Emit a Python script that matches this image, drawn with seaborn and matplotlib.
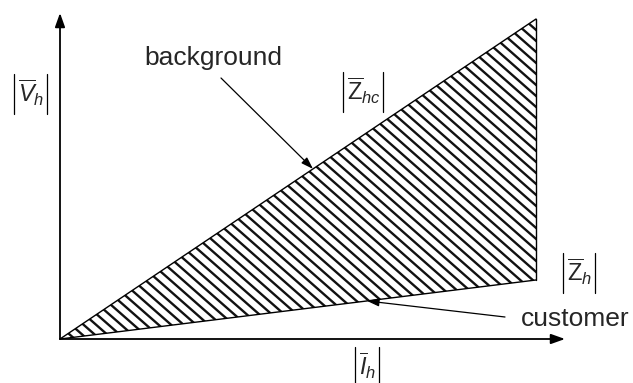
import numpy as np
import pandas as pd
import matplotlib
matplotlib.use("Agg")
import matplotlib.pyplot as plt
import seaborn as sns
from matplotlib.patches import Polygon

sns.set_theme(style="white")
plt.rcParams["font.family"] = ["Liberation Sans", "DejaVu Sans"]
plt.rcParams["mathtext.fontset"] = "custom"
plt.rcParams["mathtext.rm"] = "Liberation Sans"
plt.rcParams["mathtext.it"] = "Liberation Sans:italic"
plt.rcParams["mathtext.bf"] = "Liberation Sans:bold"

# Operating region: harmonic current magnitude against harmonic voltage magnitude
current = [0, 476]            # |I_h| range
v_background = [0, 320]       # |V_h| along the background impedance line |Z_hc|
v_customer = [0, 59]          # |V_h| along the customer impedance line |Z_h|

axis_len_x = 505
axis_len_y = 326

label_v = r"$\overline{V}_h$"
label_i = r"$\overline{I}_h$"
label_zhc = r"$\overline{\mathrm{Z}}_{hc}$"
label_zh = r"$\overline{\mathrm{Z}}_{h}$"
label_bg = "background"
label_cu = "customer"

df = pd.DataFrame({
    "I": current * 2,
    "V": v_background + v_customer,
    "line": ["background"] * 2 + ["customer"] * 2,
})

fig = plt.figure(figsize=(6.33, 3.83), dpi=100)
ax = fig.add_axes([0, 0, 1, 1])
ax.set_xlim(-60, 573)
ax.set_ylim(-44, 339)
ax.axis("off")

# Hatched region between the two impedance lines
verts = [(current[0], v_background[0]),
         (current[1], v_background[1]),
         (current[1], v_customer[1])]
region = Polygon(verts, closed=True, facecolor="none", edgecolor="none")
ax.add_patch(region)
for c in np.arange(-20, 820, 11):
    h, = ax.plot([0, 820], [c, c - 820 * 0.88], color="#111111", lw=1.7,
                 solid_capstyle="butt")
    h.set_clip_path(region)

# Boundary lines
sns.lineplot(data=df, x="I", y="V", units="line", estimator=None,
             color="black", lw=1.0, ax=ax, legend=False)
ax.plot([current[1], current[1]], [v_customer[1], v_background[1]],
        color="black", lw=1.0)

# Axes with arrow heads
arrow_kw = dict(arrowstyle="-|>,head_length=0.7,head_width=0.25",
                color="black", lw=1.3, shrinkA=0, shrinkB=0)
ax.annotate("", xy=(axis_len_x, 0), xytext=(0, 0), arrowprops=arrow_kw)
ax.annotate("", xy=(0, axis_len_y), xytext=(0, 0), arrowprops=arrow_kw)


def magnitude_label(x_left, y_mid, tex, size=17, half=20):
    """Symbol between tall absolute-value bars; x_left is the left bar."""
    t = ax.text(x_left + 4, y_mid - 8, tex, fontsize=size,
                ha="left", va="baseline")
    fig.canvas.draw()
    ext = t.get_window_extent(fig.canvas.get_renderer())
    x_right = ax.transData.inverted().transform((ext.x1, ext.y0))[0] + 2.5
    for xb in (x_left, x_right):
        ax.plot([xb, xb], [y_mid - half, y_mid + half], color="black", lw=0.9)


magnitude_label(-46, 245, label_v)
magnitude_label(295, -28, label_i)
magnitude_label(283, 247, label_zhc)
magnitude_label(503, 66, label_zh)

pointer_kw = dict(arrowstyle="-|>,head_length=0.6,head_width=0.2",
                  color="black", lw=0.9, shrinkA=0, shrinkB=0)
x_bg = 253
ax.annotate("", xy=(x_bg, x_bg * v_background[1] / current[1]),
            xytext=(161, 261), arrowprops=pointer_kw)
ax.text(153, 281, label_bg, fontsize=19, ha="center", va="center")

x_cu = 307
ax.annotate("", xy=(x_cu, x_cu * v_customer[1] / current[1]),
            xytext=(445, 22), arrowprops=pointer_kw)
ax.text(515, 20, label_cu, fontsize=19, ha="center", va="center")

fig.savefig("out.png", dpi=100)
